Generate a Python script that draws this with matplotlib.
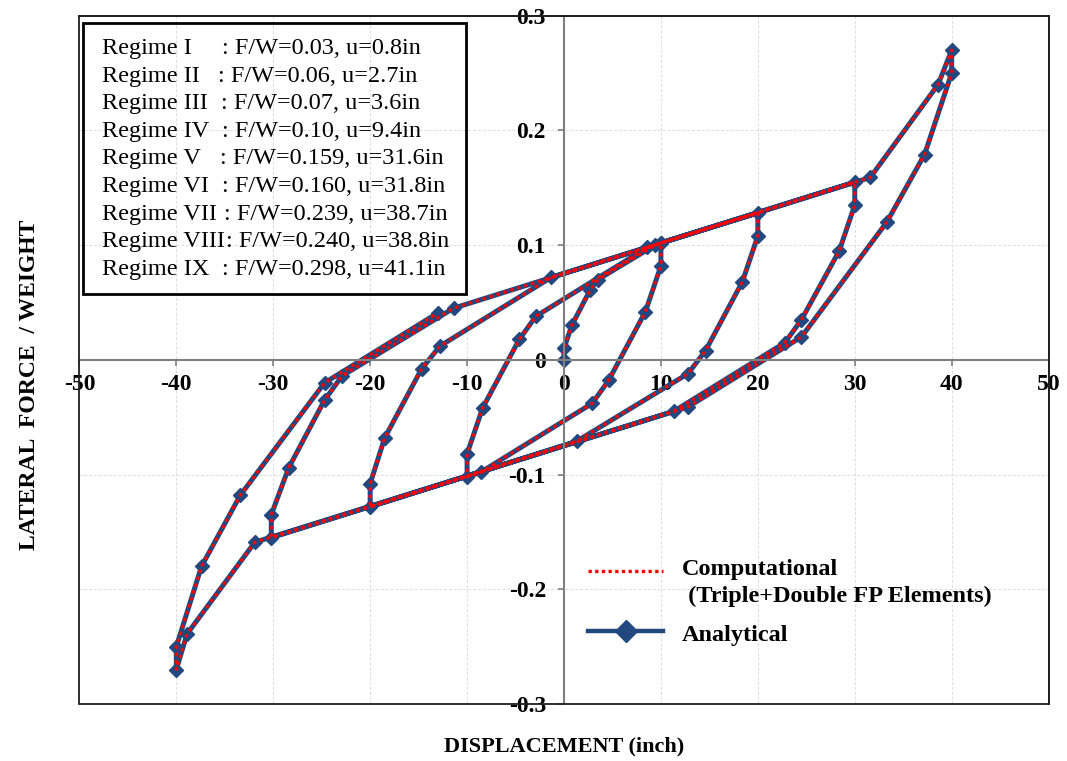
#
# hysteresis of the isolator: analytical vs computational
#

from matplotlib import pyplot as plot
from matplotlib.lines import Line2D
from matplotlib.patches import Rectangle

plot.rcParams['font.family'] = ['Liberation Serif', 'DejaVu Serif']

# displacement (inch) and lateral force / weight along the loading path
disp = [0.0, 0.0, 0.8, 2.7, 3.5, 9.4, 10.0,
        10.0, 8.4, 4.6, 2.9, -8.6, -10.0,
        -10.0, -8.4, -4.6, -2.9, 8.6, 10.0, 20.0,
        20.0, 18.4, 14.6, 12.8, 1.3, -20.0,
        -20.0, -18.5, -14.7, -12.8, -1.3, 30.0,
        30.0, 28.4, 24.5, 22.8, 11.3, -30.2,
        -30.2, -28.4, -24.7, -22.9, -11.4, 31.6, 38.6, 40.0,
        40.0, 37.2, 33.3, 24.5, 12.8, -31.9, -38.9, -40.0,
        -40.0, -37.4, -33.4, -24.7, -13.0]
force = [0.0, 0.010, 0.030, 0.061, 0.070, 0.100, 0.102,
         0.082, 0.042, -0.018, -0.038, -0.098, -0.102,
         -0.082, -0.042, 0.018, 0.038, 0.098, 0.102, 0.128,
         0.108, 0.068, 0.008, -0.012, -0.071, -0.128,
         -0.108, -0.068, -0.008, 0.012, 0.072, 0.155,
         0.135, 0.095, 0.035, 0.015, -0.045, -0.155,
         -0.135, -0.094, -0.035, -0.014, 0.045, 0.159, 0.240, 0.270,
         0.250, 0.179, 0.120, 0.020, -0.041, -0.159, -0.239, -0.270,
         -0.250, -0.180, -0.118, -0.020, 0.041]

xTicks = [-50, -40, -30, -20, -10, 0, 10, 20, 30, 40, 50]
yTicks = [-0.3, -0.2, -0.1, 0.0, 0.1, 0.2, 0.3]
yTickLabels = ['-0.3', '-0.2', '-0.1', '0', '0.1', '0.2', '0.3']

regimeName = ['Regime I', 'Regime II', 'Regime III', 'Regime IV', 'Regime V',
              'Regime VI', 'Regime VII', 'Regime VIII', 'Regime IX']
regimeValue = [': F/W=0.03, u=0.8in', ': F/W=0.06, u=2.7in', ': F/W=0.07, u=3.6in',
               ': F/W=0.10, u=9.4in', ': F/W=0.159, u=31.6in', ': F/W=0.160, u=31.8in',
               ': F/W=0.239, u=38.7in', ': F/W=0.240, u=38.8in', ': F/W=0.298, u=41.1in']

# layout (pixels of the 1067 x 761 picture)
W, H = 1067, 761
colonPx = [222, 218, 221, 222, 220, 222, 224, 226, 222]

blue = '#21497F'
red = '#FF0000'


def Fig(px, py):
  return (px / W, 1 - py / H)


###############################
if __name__ == "__main__":
  fig = plot.figure(figsize=(W / 100, H / 100), dpi=100)
  ax = fig.add_axes([79.4 / W, 1 - 704 / H, (1048.6 - 79.4) / W, (704 - 15.7) / H])

  ax.set_xlim(-50, 50)
  ax.set_ylim(-0.3, 0.3)

  # grid, zero axes and frame
  ax.grid(True, color='#dcdcdc', linestyle=(0, (3, 2)), lw=0.7)
  ax.set_axisbelow(True)
  for side in ('left', 'bottom'):
    ax.spines[side].set_position(('data', 0))
    ax.spines[side].set_color('#808080')
    ax.spines[side].set_linewidth(1.5)
  for side in ('top', 'right'):
    ax.spines[side].set_color('#202020')
    ax.spines[side].set_linewidth(1.3)
  ax.add_patch(Rectangle((0, 0), 1, 1, transform=ax.transAxes, fill=False,
                         ec='#202020', lw=1.3, clip_on=False, zorder=3))

  ax.set_xticks(xTicks)
  ax.set_xticklabels([str(t) for t in xTicks], fontweight='bold')
  ax.set_yticks(yTicks)
  ax.set_yticklabels(yTickLabels, fontweight='bold')
  ax.tick_params(axis='both', direction='out', length=4, width=1.2,
                 color='#808080', labelsize=17)
  ax.tick_params(axis='x', pad=6)
  ax.tick_params(axis='y', pad=9)

  # the curves
  ax.plot(disp, force, color=blue, lw=3.6, marker='D', ms=7.5, mfc=blue, mec=blue,
          zorder=2)
  ax.plot(disp, force, color=red, lw=2.6, linestyle=(0, (0.1, 1.9)),
          dash_capstyle='round', zorder=2.1)

  # axis titles
  fig.text(*Fig(564, 746), 'DISPLACEMENT (inch)', ha='center', va='center',
           fontsize=16, fontweight='bold')
  fig.text(*Fig(30, 385), 'LATERAL  FORCE  / WEIGHT', ha='center', va='center',
           rotation=90, fontsize=17, fontweight='bold')

  # regime box
  fig.add_artist(Rectangle(Fig(82.7, 294), (465.7 - 82.7) / W, (294 - 23.3) / H,
                           transform=fig.transFigure, fill=False, ec='black', lw=2))
  for i, (name, value) in enumerate(zip(regimeName, regimeValue)):
    yPx = 54 + i * 27.6
    fig.text(*Fig(102, yPx), name, ha='left', va='baseline', fontsize=17.5)
    fig.text(*Fig(colonPx[i], yPx), value, ha='left', va='baseline', fontsize=17.5)

  # legend
  x0, y0 = Fig(588, 570.5)
  x1, y1 = Fig(663, 570.5)
  fig.add_artist(Line2D([x0, x1], [y0, y1], transform=fig.transFigure, color=red,
                        lw=2.4, linestyle=(0, (1.0, 1.0))))
  x0, y0 = Fig(588, 630.5)
  x1, y1 = Fig(663, 630.5)
  fig.add_artist(Line2D([x0, x1], [y0, y1], transform=fig.transFigure, color=blue,
                        lw=3.2))
  fig.add_artist(Line2D([(x0 + x1) / 2], [y0], transform=fig.transFigure, color=blue,
                        marker='D', ms=11, mfc=blue, mec=blue, lw=0))
  fig.text(*Fig(682, 575), 'Computational', va='baseline', fontsize=17.5,
           fontweight='bold')
  fig.text(*Fig(682, 602), ' (Triple+Double FP Elements)', va='baseline',
           fontsize=17.5, fontweight='bold')
  fig.text(*Fig(682, 641.5), 'Analytical', va='baseline', fontsize=17.5,
           fontweight='bold')

  plot.savefig('out.png', dpi=100)
